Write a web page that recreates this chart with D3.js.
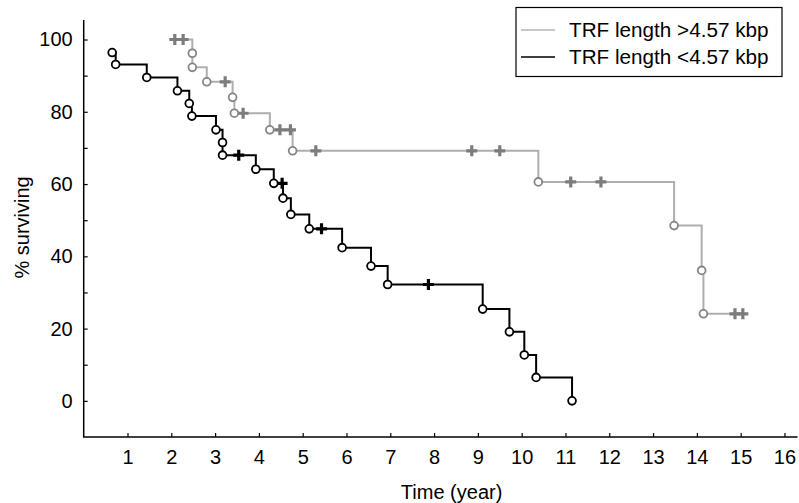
<!DOCTYPE html>
<html>
<head>
<meta charset="utf-8">
<script src="https://cdn.jsdelivr.net/npm/d3@7"></script>
<style>
  html, body { margin: 0; padding: 0; background: #fff; }
  svg { display: block; font-family: "Liberation Sans", Arial, Helvetica, sans-serif; }
</style>
</head>
<body>
<svg id="chart" width="799" height="503"></svg>
<script>
// ---- Data ----
const legendLabels = ["TRF length >4.57 kbp", "TRF length <4.57 kbp"];

// Long telomere group (grey)
const longStartTime = 1.98;
const longEndTime = 15.1;
const longEventTimes = [2.48, 2.48, 2.81, 3.40, 3.44, 4.25, 4.77, 10.38, 13.48, 14.11, 14.15];
const longEventSurv  = [96.2, 92.3, 88.3, 84.0, 79.6, 75.0, 69.2, 60.6, 48.5, 36.1, 24.1];
const longCensorTimes = [2.08, 2.27, 3.23, 3.64, 4.48, 4.72, 5.30, 8.86, 9.50, 11.12, 11.81, 14.87, 15.05];

// Short telomere group (black)
const shortEventTimes = [0.65, 0.73, 1.44, 2.14, 2.41, 2.47, 3.02, 3.17, 3.17, 3.93, 4.34, 4.55, 4.73, 5.15, 5.90, 6.56, 6.94, 9.11, 9.72, 10.06, 10.33, 11.15];
const shortEventSurv  = [96.4, 93.1, 89.5, 85.8, 82.3, 78.8, 75.0, 71.5, 68.0, 64.1, 60.2, 56.1, 51.6, 47.6, 42.4, 37.3, 32.2, 25.4, 19.1, 12.7, 6.5, 0];
const shortCensorTimes = [3.54, 4.53, 5.43, 7.87];

const xTickValues = d3.range(1, 17);
const yLabelValues = [0, 20, 40, 60, 80, 100];
const yTickValues = d3.range(0, 101, 10);

// ---- Layout ----
const svg = d3.select("#chart");
const x = d3.scaleLinear().domain([0, 16.3]).range([83.7, 797.6]);
const y = d3.scaleLinear().domain([-10, 105.4]).range([437, 20]);

const fontSize = 20;

// axes lines
svg.append("line").attr("x1", x(0)).attr("x2", x(0)).attr("y1", y(105.4)).attr("y2", y(-10))
  .attr("stroke", "#000").attr("stroke-width", 1.5);
svg.append("line").attr("x1", x(0) - 0.75).attr("x2", x(16.3)).attr("y1", y(-10)).attr("y2", y(-10))
  .attr("stroke", "#000").attr("stroke-width", 1.5);

// y axis ticks + labels
const yAxis = d3.axisLeft(y).tickValues(yTickValues).tickSizeInner(-4).tickSizeOuter(0)
  .tickFormat(d => yLabelValues.includes(d) ? d : "");
const gy = svg.append("g").attr("transform", `translate(${x(0)},0)`).call(yAxis);
gy.select(".domain").remove();
gy.selectAll(".tick line").attr("stroke", "#000").attr("stroke-width", 1.2);
gy.selectAll(".tick text").attr("x", -11).attr("font-size", fontSize)
  .attr("font-family", "Liberation Sans, Arial, sans-serif").attr("fill", "#000");

// x axis ticks + labels
const xAxis = d3.axisBottom(x).tickValues(xTickValues).tickSizeInner(-4).tickSizeOuter(0);
const gx = svg.append("g").attr("transform", `translate(0,${y(-10)})`).call(xAxis);
gx.select(".domain").remove();
gx.selectAll(".tick line").attr("stroke", "#000").attr("stroke-width", 1.2);
gx.selectAll(".tick text").attr("y", 13).attr("font-size", fontSize)
  .attr("font-family", "Liberation Sans, Arial, sans-serif").attr("fill", "#000");

// axis titles
svg.append("text").attr("x", x(8.4)).attr("y", 499).attr("text-anchor", "middle")
  .attr("font-size", fontSize).attr("fill", "#000").text("Time (year)");
svg.append("text").attr("transform", `translate(29,${y(48)}) rotate(-90)`).attr("text-anchor", "middle")
  .attr("font-size", fontSize).attr("fill", "#000").text("% surviving");

// ---- KM step builder ----
function stepPoints(startT, startS, times, surv, endT) {
  const pts = [[startT, startS]];
  let prev = startS;
  times.forEach((t, i) => {
    pts.push([t, prev]);
    pts.push([t, surv[i]]);
    prev = surv[i];
  });
  pts.push([endT, prev]);
  return pts;
}
function survAt(t, startS, times, surv) {
  let s = startS;
  times.forEach((tt, i) => { if (tt <= t) s = surv[i]; });
  return s;
}
const line = d3.line().x(d => x(d[0])).y(d => y(d[1]));
const crossPath = "M-5.5,0H5.5M0,-5.5V5.5";

function drawGroup(opts) {
  const { startT, startS, times, surv, endT, censors, lineColor, markColor, crossColor } = opts;
  const pts = stepPoints(startT, startS, times, surv, endT);
  svg.append("path").attr("d", line(pts)).attr("fill", "none")
    .attr("stroke", lineColor).attr("stroke-width", 2);
  svg.append("g").selectAll("path").data(censors).join("path")
    .attr("d", crossPath)
    .attr("transform", t => `translate(${x(t)},${y(survAt(t, startS, times, surv))})`)
    .attr("stroke", crossColor).attr("stroke-width", 3.2).attr("fill", "none");
  svg.append("g").selectAll("circle").data(times.map((t, i) => [t, surv[i]])).join("circle")
    .attr("cx", d => x(d[0])).attr("cy", d => y(d[1])).attr("r", 3.9)
    .attr("fill", "#fff").attr("stroke", markColor).attr("stroke-width", 1.8);
}

drawGroup({
  startT: longStartTime, startS: 100, times: longEventTimes, surv: longEventSurv, endT: longEndTime,
  censors: longCensorTimes, lineColor: "#aeaeae", markColor: "#858585", crossColor: "#7c7c7c"
});
drawGroup({
  startT: shortEventTimes[0], startS: shortEventSurv[0], times: shortEventTimes, surv: shortEventSurv,
  endT: shortEventTimes[shortEventTimes.length - 1],
  censors: shortCensorTimes, lineColor: "#000", markColor: "#000", crossColor: "#000"
});

// ---- Legend ----
const lg = svg.append("g");
lg.append("rect").attr("x", 516).attr("y", 7.5).attr("width", 266).attr("height", 69)
  .attr("fill", "#fff").attr("stroke", "#000").attr("stroke-width", 1.2);
const legendColors = ["#b4b4b4", "#000"];
const legendY = [30, 57];
legendLabels.forEach((lab, i) => {
  lg.append("line").attr("x1", 521).attr("x2", 555).attr("y1", legendY[i]).attr("y2", legendY[i])
    .attr("stroke", legendColors[i]).attr("stroke-width", 1.6);
  lg.append("text").attr("x", 569).attr("y", legendY[i]).attr("dy", "0.35em")
    .attr("font-size", 20.7).attr("fill", "#000").text(lab);
});
</script>
</body>
</html>
